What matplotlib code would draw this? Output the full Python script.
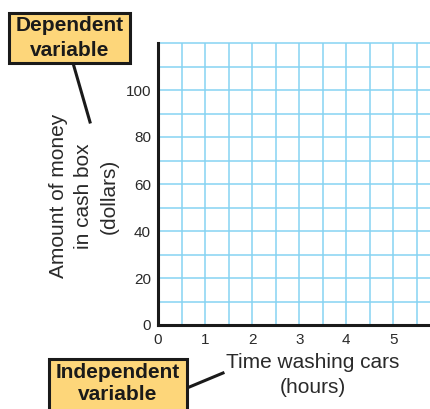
import matplotlib
matplotlib.use("Agg")
import matplotlib.pyplot as plt
from matplotlib.patches import Rectangle
from matplotlib.lines import Line2D

X_TICKS = [0, 1, 2, 3, 4, 5]
X_GRID = [0.5, 1, 1.5, 2, 2.5, 3, 3.5, 4, 4.5, 5, 5.5]
Y_TICKS = [0, 20, 40, 60, 80, 100]
Y_GRID = [10, 20, 30, 40, 50, 60, 70, 80, 90, 100, 110, 120]
X_LIMITE = (0, 5.8)
Y_LIMITE = (0, 120)

ROTULO_X = "Time washing cars\n(hours)"
ROTULO_Y = "Amount of money\nin cash box\n(dollars)"
CAIXA_DEP = "Dependent\nvariable"
CAIXA_INDEP = "Independent\nvariable"

AZUL_GRADE = "#86d3f2"
AMARELO = "#fdd67a"

plt.rcParams["font.family"] = ["Liberation Sans", "DejaVu Sans"]

W, H = 431, 409
fig = plt.figure(figsize=(W / 100, H / 100), dpi=100)


def px(x, y):
    # pixel (a partir do topo) -> fração da figura
    return x / W, 1 - y / H


esq, topo = 158, 43
dir_, base = 431, 325
ax = fig.add_axes([esq / W, 1 - base / H, (dir_ - esq) / W, (base - topo) / H])
ax.set_xlim(*X_LIMITE)
ax.set_ylim(*Y_LIMITE)

for gx in X_GRID:
    ax.axvline(gx, color=AZUL_GRADE, linewidth=1.1, zorder=1)
for gy in Y_GRID:
    ax.axhline(gy, color=AZUL_GRADE, linewidth=1.1, zorder=1, clip_on=False)

ax.set_xticks(X_TICKS)
ax.set_yticks(Y_TICKS)
ax.tick_params(length=0, labelsize=11, colors="#2a2a2a")
ax.tick_params(axis="y", pad=5)
ax.tick_params(axis="x", pad=6)
for s in ["top", "right"]:
    ax.spines[s].set_visible(False)
for s in ["left", "bottom"]:
    ax.spines[s].set_linewidth(2.2)
    ax.spines[s].set_color("#1a1a1a")
    ax.spines[s].set_zorder(3)

# rótulos dos eixos
fig.text(*px(313, 375), ROTULO_X, ha="center", va="center", fontsize=15,
         color="#2a2a2a", linespacing=1.4)
fig.text(*px(84, 196), ROTULO_Y, ha="center", va="center", fontsize=15,
         color="#2a2a2a", rotation=90, linespacing=1.45)

# caixas amarelas
def caixa(x0, y0, x1, y1, texto, cx, cy, esp):
    fig.patches.append(Rectangle(px(x0, y1), (x1 - x0) / W, (y1 - y0) / H,
                                 transform=fig.transFigure, facecolor=AMARELO,
                                 edgecolor="#1a1a1a", linewidth=2.2, zorder=5))
    fig.text(*px(cx, cy), texto, ha="center", va="center", fontsize=15,
             fontweight="bold", color="#1a1a1a", linespacing=esp, zorder=6)


caixa(9, 13, 130, 63, CAIXA_DEP, 70, 38, 1.35)
caixa(49, 359, 187, 412, CAIXA_INDEP, 118, 384, 1.2)

fig.lines.append(Line2D([73 / W, 90 / W], [1 - 63 / H, 1 - 122 / H],
                        transform=fig.transFigure, color="#1a1a1a", linewidth=2.2))
fig.lines.append(Line2D([187 / W, 223 / W], [1 - 388 / H, 1 - 373 / H],
                        transform=fig.transFigure, color="#1a1a1a", linewidth=2.2))

fig.savefig("out.png", dpi=100)
